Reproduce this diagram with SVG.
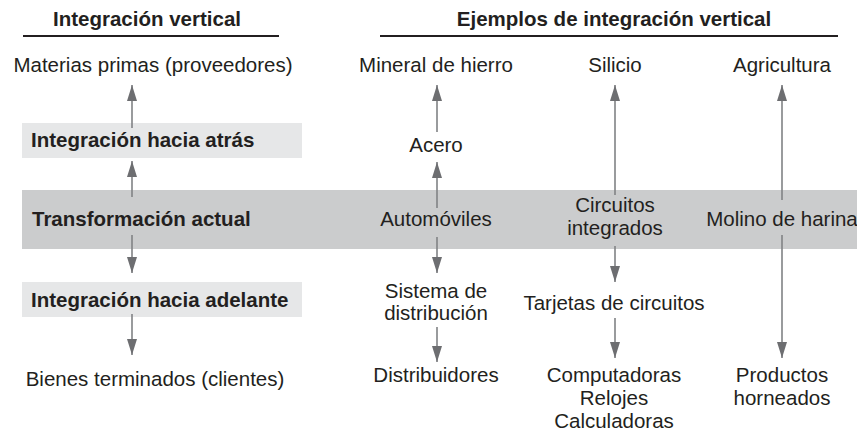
<svg xmlns="http://www.w3.org/2000/svg" width="857" height="434" viewBox="0 0 857 434">
<style>
text{font-family:"Liberation Sans",Arial,Helvetica,sans-serif;font-size:20.5px;fill:#231f20}
.b{font-weight:bold}
.c{text-anchor:middle}
.band{fill:#cbcccd}
.lite{fill:#e6e7e8}
.rule{stroke:#231f20;stroke-width:2}
.arr{stroke:#808285;stroke-width:1.6;fill:none;marker-end:url(#ah)}
</style>
<defs>
<marker id="ah" markerUnits="userSpaceOnUse" markerWidth="16" markerHeight="10" refX="16" refY="5" orient="auto" viewBox="0 0 16 10">
<path d="M0,0 L16,5 L0,10 z" fill="#6d6e71"/>
</marker>
</defs>
<rect width="857" height="434" fill="#fff"/>
<g id="band-actual"><rect class="band" x="22" y="190" width="835" height="59"/></g>
<g id="box-atras"><rect class="lite" x="22" y="123" width="280" height="35"/></g>
<g id="box-adelante"><rect class="lite" x="22" y="282" width="280" height="35"/></g>
<g id="headers">
<text class="b c" x="147" y="26">Integración vertical</text>
<line class="rule" x1="23" y1="36" x2="279" y2="36"/>
<text class="b c" x="614" y="26">Ejemplos de integración vertical</text>
<line class="rule" x1="380" y1="36" x2="838" y2="36"/>
</g>
<g id="connectors">
<line class="arr" x1="132" y1="128" x2="132" y2="85"/>
<line class="arr" x1="132" y1="197" x2="132" y2="161"/>
<line class="arr" x1="132" y1="235" x2="132" y2="273"/>
<line class="arr" x1="132" y1="314" x2="132" y2="355"/>
<line class="arr" x1="437" y1="132" x2="437" y2="85"/>
<line class="arr" x1="437" y1="208" x2="437" y2="162"/>
<line class="arr" x1="437" y1="237" x2="437" y2="273"/>
<line class="arr" x1="437" y1="327" x2="437" y2="362"/>
<line class="arr" x1="615" y1="195" x2="615" y2="85"/>
<line class="arr" x1="615" y1="246" x2="615" y2="282"/>
<line class="arr" x1="615" y1="318" x2="615" y2="358"/>
<line class="arr" x1="782" y1="200" x2="782" y2="85"/>
<line class="arr" x1="782" y1="235" x2="782" y2="358"/>
</g>
<g id="n-materias"><text class="c" x="153" y="72">Materias primas (proveedores)</text></g>
<g id="n-atras"><text class="b" x="31" y="147">Integración hacia atrás</text></g>
<g id="n-actual"><text class="b" x="32" y="226">Transformación actual</text></g>
<g id="n-adelante"><text class="b" x="31" y="307">Integración hacia adelante</text></g>
<g id="n-bienes"><text class="c" x="155" y="386">Bienes terminados (clientes)</text></g>
<g id="n-mineral"><text class="c" x="436" y="72">Mineral de hierro</text></g>
<g id="n-acero"><text class="c" x="436" y="152">Acero</text></g>
<g id="n-auto"><text class="c" x="436" y="226">Automóviles</text></g>
<g id="n-sistema"><text class="c" x="436" y="298">Sistema de</text><text class="c" x="436" y="320">distribución</text></g>
<g id="n-distrib"><text class="c" x="436" y="382">Distribuidores</text></g>
<g id="n-silicio"><text class="c" x="615" y="72">Silicio</text></g>
<g id="n-circuitos"><text class="c" x="615" y="212">Circuitos</text><text class="c" x="615" y="235">integrados</text></g>
<g id="n-tarjetas"><text class="c" x="614" y="310">Tarjetas de circuitos</text></g>
<g id="n-comput"><text class="c" x="614" y="382">Computadoras</text><text class="c" x="614" y="405">Relojes</text><text class="c" x="614" y="428">Calculadoras</text></g>
<g id="n-agri"><text class="c" x="782" y="72">Agricultura</text></g>
<g id="n-molino"><text class="c" x="782" y="226">Molino de harina</text></g>
<g id="n-productos"><text class="c" x="782" y="382">Productos</text><text class="c" x="782" y="405">horneados</text></g>
</svg>
